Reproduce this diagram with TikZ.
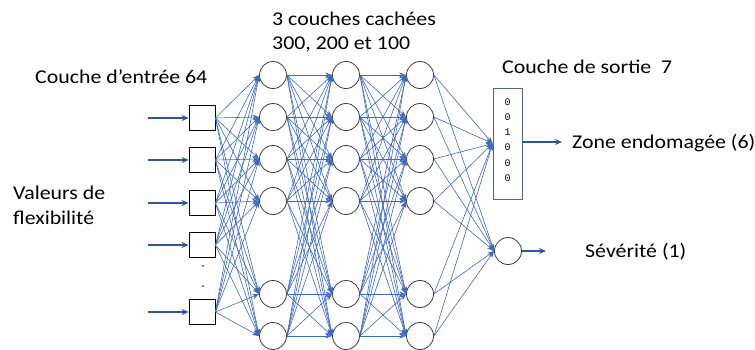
\documentclass[tikz,border=0pt]{standalone}
\usepackage{fontspec}
\setmainfont[FakeStretch=1.12]{Carlito}
\newfontfamily\digitfont{Liberation Mono}
\usetikzlibrary{arrows.meta}
\definecolor{conn}{RGB}{62,106,190}
\definecolor{arrowblue}{RGB}{47,85,160}
\definecolor{ringgray}{RGB}{60,60,60}
\definecolor{outframe}{RGB}{80,100,135}
\tikzset{
  inbox/.style={draw=black,line width=0.8pt,fill=white,minimum width=26pt,minimum height=25pt,inner sep=0pt},
  neuron/.style={circle,draw=ringgray,line width=0.8pt,fill=white,minimum size=27pt,inner sep=0pt},
  link/.style={draw=conn,line width=0.6pt,-{Stealth[length=7pt,width=5pt]}},
  feed/.style={draw=arrowblue,line width=1.7pt,-{Stealth[length=7pt,width=6pt]}},
  lbl/.style={anchor=west,inner sep=0pt,font=\fontsize{19.5}{23}\selectfont}
}
\begin{document}
\begin{tikzpicture}[x=1pt,y=-1pt]
\useasboundingbox (0,0) rectangle (755,349);
% input boxes
\foreach \i/\y in {1/118,2/160,3/203,4/245,5/312}{
  \node[inbox] (in\i) at (202,\y) {};
  \coordinate (src\i) at (148,\y);
  \draw[feed] (src\i) -- (in\i.west);
}
\node[circle,fill=black,inner sep=0pt,minimum size=1.6pt] (dotA) at (203,266) {};
\node[circle,fill=black,inner sep=0pt,minimum size=1.6pt] (dotB) at (203,286) {};
% hidden layers
\foreach \l/\x in {1/273,2/346,3/420}{
  \foreach \j/\y in {1/75,2/117,3/159,4/201,5/294,6/336}{
    \node[neuron] (h\l\j) at (\x,\y) {};
  }
}
% output
\node[draw=outframe,line width=0.8pt,fill=white,minimum width=29pt,minimum height=111pt,inner sep=0pt] (outbox) at (507.5,143.5) {};
\foreach \k/\d/\y in {1/0/102,2/0/117,3/1/132,4/0/147.5,5/0/163,6/0/178}{
  \node[inner sep=0pt,font=\digitfont\fontsize{10}{11}\selectfont] (dig\k) at (507.5,\y) {\d};
}
\node[neuron] (sev) at (508,251) {};
% connections
\foreach \i in {1,...,5}{
  \foreach \j in {1,...,6}{
    \draw[link] (in\i.east) -- (h1\j.west);
  }
}
\foreach \i in {1,...,6}{
  \foreach \j in {1,...,6}{
    \draw[link] (h1\i.east) -- (h2\j.west);
    \draw[link] (h2\i.east) -- (h3\j.west);
  }
  \draw[link] (h3\i.east) -- (outbox.west);
  \draw[link] (h3\i.east) -- (sev.west);
}
\coordinate (zoneend) at (562,142);
\coordinate (sevend) at (546,251);
\draw[feed] (outbox.east |- zoneend) -- (zoneend);
\draw[feed,line width=1.5pt] (sev.east) -- (sevend);
% labels
\node[lbl] (t1) at (272,19) {3 couches cachées};
\node[lbl] (t2) at (272,44) {300, 200 et 100};
\node[lbl] (t3) at (35,77) {Couche d’entrée 64};
\node[lbl] (t4) at (13,193) {Valeurs de};
\node[lbl] (t5) at (13,218) {flexibilité};
\node[lbl] (t6) at (502,67) {Couche de sortie\ \ 7};
\node[lbl] (t7) at (572,143) {Zone endomagée (6)};
\node[lbl] (t8) at (585,252) {Sévérité (1)};
\end{tikzpicture}
\end{document}
